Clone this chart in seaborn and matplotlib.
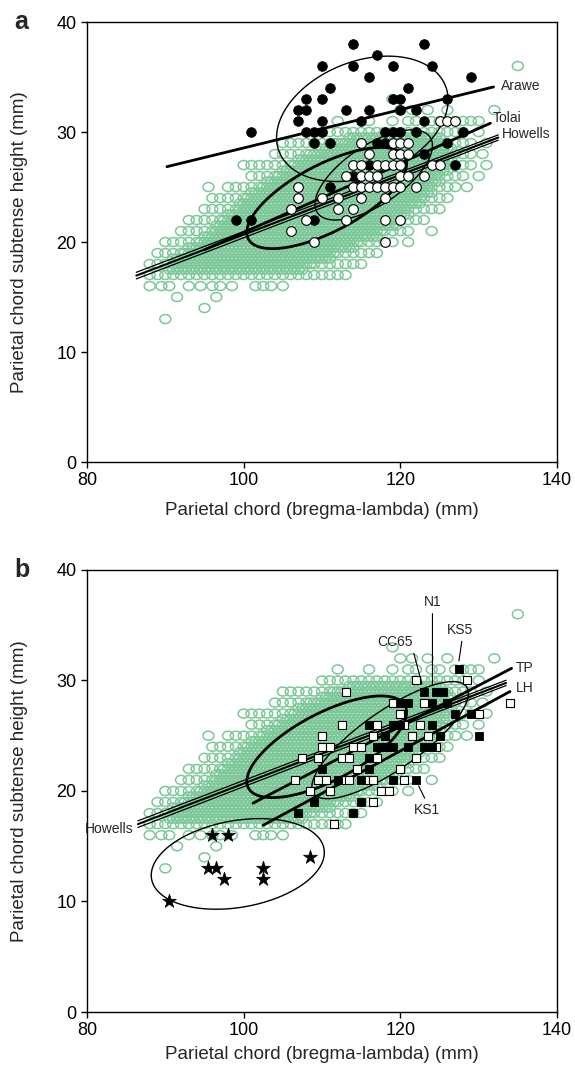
import numpy as np
import pandas as pd
import matplotlib
matplotlib.use('Agg')
import matplotlib.pyplot as plt
from matplotlib.path import Path
from matplotlib.transforms import Affine2D
import seaborn as sns

# ---------------- data (mm) ----------------
# Howells cloud: integer rows, span of occupied x values
howells_row_y = [17, 18, 19, 20, 21, 22, 23, 24, 25, 26, 27, 28, 29, 30]
howells_row_lo = [88, 88, 89, 90, 92, 93, 95, 96, 98, 101, 100, 104, 105, 110]
howells_row_hi = [112, 115, 117, 119, 121, 123, 125, 126, 127, 128, 129, 129, 129, 128]
# dense core of the integer rows (x every half mm)
howells_dense_y = [18, 19, 20, 21, 22, 23, 24, 25, 26, 27, 28, 29]
howells_dense_lo = [91.5, 92.5, 94.5, 96.5, 97.5, 99.5, 100.5, 102.5, 104.5, 106.5, 108.5, 111.5]
howells_dense_hi = [108.5, 111.5, 114.5, 117.5, 119.5, 120.5, 122.5, 123.5, 124.5, 125.5, 125.5, 125.5]
# dense core, half rows (x every half mm)
howells_core_y = [17.5, 18.5, 19.5, 20.5, 21.5, 22.5, 23.5, 24.5, 25.5, 26.5, 27.5, 28.5, 29.5]
howells_core_lo = [90.5, 91.0, 93.0, 95.0, 96.5, 98.0, 99.5, 101.0, 103.0, 105.0, 107.0, 110.0, 113.5]
howells_core_hi = [107.5, 111.0, 114.0, 117.0, 119.5, 121.0, 122.5, 124.0, 125.0, 126.0, 126.5, 126.5, 125.0]
# scattered individuals outside the spans
howells_extra_x = [135, 119, 120, 121.5, 123.5, 126, 132,
                   112, 116, 119, 121, 122, 124, 125, 127, 128, 129, 130,
                   130, 131, 130.5, 131, 130, 128.5, 95.5, 121, 124, 113,
                   88, 89.5, 90.5, 93, 94.5, 96, 97, 98.5, 101.5, 102.5, 103.5, 105,
                   91.5, 96.5, 95, 90]
howells_extra_y = [36, 33, 32, 32, 32, 32, 32,
                   31, 31, 31, 31, 31, 31, 31, 31, 31, 31, 31,
                   30, 29, 28, 27, 26, 25, 25, 20, 21, 17,
                   16, 16, 16, 16, 16, 16, 16, 16, 16, 16, 16, 16,
                   15, 15, 14, 13]

# panel a: Arawe (filled) and Tolai (open) circles
arawe_x = [114, 123, 117, 110, 114, 119, 124, 116, 129, 111, 121, 108, 110, 119, 120, 126,
           107, 108, 113, 116, 120, 122, 107, 110, 115, 123, 101, 108, 109, 110, 118, 119,
           120, 122, 128, 109, 111, 117, 118, 126, 123, 116, 127, 114, 111, 99, 101, 109]
arawe_y = [38, 38, 37, 36, 36, 36, 36, 35, 35, 34, 34, 33, 33, 33, 33, 33,
           32, 32, 32, 32, 32, 32, 31, 31, 31, 31, 30, 30, 30, 30, 30, 30,
           30, 30, 30, 29, 29, 29, 29, 29, 28, 27, 27, 26, 25, 22, 22, 22]
tolai_x = [125, 126, 127, 115, 119, 120, 121, 116, 119, 120, 121,
           114, 115, 117, 118, 119, 120, 124, 125, 113, 115, 116, 117, 120, 121, 123,
           107, 114, 115, 116, 117, 118, 119, 120, 122, 107, 110, 112, 115, 118,
           106, 112, 114, 108, 113, 118, 120, 106, 109, 118]
tolai_y = [31, 31, 31, 29, 29, 29, 29, 28, 28, 28, 28,
           27, 27, 27, 27, 27, 27, 27, 27, 26, 26, 26, 26, 26, 26, 26,
           25, 25, 25, 25, 25, 25, 25, 25, 25, 24, 24, 24, 24, 24,
           23, 23, 23, 22, 22, 22, 22, 21, 20, 20]

# panel b: filled squares, open squares, stars
fsq_x = [127.5, 123, 124.5, 125.5, 120, 121, 124, 126, 127, 129, 116, 119, 120, 124,
         118, 125, 130, 117, 118, 119, 121, 123, 124, 116, 110, 116, 112, 115, 119, 122,
         109, 115, 107, 114]
fsq_y = [31, 29, 29, 29, 28, 28, 28, 28, 27, 27, 26, 26, 26, 26,
         25, 25, 25, 24, 24, 24, 24, 24, 24, 23, 22, 22, 21, 21, 21, 21,
         19, 19, 18, 18]
osq_x = [113, 122, 128.5, 119, 123, 120, 130, 134, 112.5, 117, 120.5, 122.5,
         110, 116.5, 121.5, 123.5, 110, 111, 114, 115, 118, 124.5,
         107.5, 109.5, 112.5, 113.5, 117, 122, 114.5, 120,
         106.5, 109.5, 110.5, 112.5, 113.5, 115.5, 116.5, 120.5,
         108.5, 111, 117.5, 118.5, 116.5, 111.5]
osq_y = [29, 30, 30, 28, 28, 27, 27, 28, 26, 26, 26, 26,
         25, 25, 25, 25, 24, 24, 24, 24, 24, 24,
         23, 23, 23, 23, 23, 23, 22, 22,
         21, 21, 21, 21, 21, 21, 21, 21,
         20, 20, 20, 20, 19, 17]
star_x = [96, 98, 95.5, 96.5, 97.5, 102.5, 102.5, 108.5, 90.5]
star_y = [16, 16, 13, 13, 12, 13, 12, 14, 10]

# regression lines (end points)
howells_a_x = [86.3, 132.5]
howells_a_mid = [16.95, 29.5]
howells_a_up = [17.25, 29.74]
howells_a_lo = [16.65, 29.26]
howells_b_x = [86.5, 133.5]
howells_b_mid = [17.0, 29.78]
howells_b_up = [17.3, 30.02]
howells_b_lo = [16.7, 29.54]
arawe_line_x = [90.2, 131.9]
arawe_line_y = [26.85, 34.1]
tolai_line_x = [95.0, 131.5]
tolai_line_y = [19.3, 30.8]
tp_line_x = [101.2, 134.2]
tp_line_y = [18.9, 31.1]
lh_line_x = [102.5, 134.0]
lh_line_y = [16.9, 29.0]

# ellipses: centre x, centre y, half range x, half range y, correlation
ell_howells = [110.6, 24.0, 10.2, 4.6, 0.68]
ell_arawe = [115.15, 31.2, 10.95, 5.7, 0.3]
ell_tolai = [116.6, 26.1, 7.5, 4.1, 0.65]
ell_squares = [118.7, 24.6, 10.0, 5.3, 0.8]
ell_stars = [99.25, 13.4, 11.05, 4.1, 0.25]

GREEN = '#7cc898'

# ---------------- build cloud table ----------------
hx, hy = [], []
for y, lo, hi in zip(howells_row_y, howells_row_lo, howells_row_hi):
    xs = np.arange(lo, hi + 0.01, 1.0)
    hx += list(xs); hy += [y] * len(xs)
for y, lo, hi in zip(howells_dense_y, howells_dense_lo, howells_dense_hi):
    xs = np.arange(lo, hi + 0.01, 1.0)
    hx += list(xs); hy += [y] * len(xs)
for y, lo, hi in zip(howells_core_y, howells_core_lo, howells_core_hi):
    xs = np.arange(lo, hi + 0.01, 0.5)
    hx += list(xs); hy += [y] * len(xs)
hx += howells_extra_x; hy += howells_extra_y
howells = pd.DataFrame({'x': hx, 'y': hy})

oval = Path.unit_circle().transformed(Affine2D().scale(1.22, 1.0))


def ellipse_xy(p, n=300):
    cx, cy, a, b, r = p
    t = np.linspace(0, 2 * np.pi, n)
    return cx + a * np.cos(t), cy + b * (r * np.cos(t) + np.sqrt(1 - r * r) * np.sin(t))


sns.set_style('ticks')
plt.rcParams['font.family'] = ['Liberation Sans', 'DejaVu Sans']

fig = plt.figure(figsize=(5.75, 10.75), dpi=100)
ax_a = fig.add_axes([0.1513, 0.5702, 0.8174, 0.4093])
ax_b = fig.add_axes([0.1513, 0.0586, 0.8174, 0.4112])

for ax in (ax_a, ax_b):
    sns.scatterplot(data=howells, x='x', y='y', ax=ax, marker=oval, s=62,
                    color=GREEN, facecolor='none', edgecolor=GREEN, linewidth=1.1,
                    zorder=1, legend=False)

# ---- panel a ----
ax = ax_a
ax.plot(howells_a_x, howells_a_up, color='black', lw=0.9, zorder=3)
ax.plot(howells_a_x, howells_a_lo, color='black', lw=0.9, zorder=3)
ax.plot(howells_a_x, howells_a_mid, color='black', lw=1.5, zorder=3)
ax.plot(tolai_line_x, tolai_line_y, color='black', lw=2, zorder=3)
ax.plot(arawe_line_x, arawe_line_y, color='black', lw=2, zorder=3)
ex, ey = ellipse_xy(ell_howells)
ax.plot(ex, ey, color='black', lw=2, zorder=3)
ex, ey = ellipse_xy(ell_arawe)
ax.plot(ex, ey, color='black', lw=1, zorder=3)
ex, ey = ellipse_xy(ell_tolai)
ax.plot(ex, ey, color='black', lw=1, zorder=3)
sns.scatterplot(x=arawe_x, y=arawe_y, ax=ax, marker='o', s=48, color='black',
                edgecolor='black', linewidth=0.6, zorder=4)
sns.scatterplot(x=tolai_x, y=tolai_y, ax=ax, marker='o', s=48, color='white',
                edgecolor='black', linewidth=0.8, zorder=4)
ax.text(132.8, 34.2, 'Arawe', fontsize=10, va='center', ha='left')
ax.text(131.8, 31.3, 'Tolai', fontsize=10, va='center', ha='left')
ax.text(133.0, 29.8, 'Howells', fontsize=10, va='center', ha='left')

# ---- panel b ----
ax = ax_b
ax.plot(howells_b_x, howells_b_up, color='black', lw=0.9, zorder=3)
ax.plot(howells_b_x, howells_b_lo, color='black', lw=0.9, zorder=3)
ax.plot(howells_b_x, howells_b_mid, color='black', lw=1.5, zorder=3)
ax.plot(tp_line_x, tp_line_y, color='black', lw=2, zorder=3)
ax.plot(lh_line_x, lh_line_y, color='black', lw=2, zorder=3)
ex, ey = ellipse_xy(ell_howells)
ax.plot(ex, ey, color='black', lw=2, zorder=3)
ex, ey = ellipse_xy(ell_squares)
ax.plot(ex, ey, color='black', lw=1, zorder=3)
ex, ey = ellipse_xy(ell_stars)
ax.plot(ex, ey, color='black', lw=1, zorder=3)
sns.scatterplot(x=osq_x, y=osq_y, ax=ax, marker='s', s=40, color='white',
                edgecolor='black', linewidth=0.8, zorder=4)
sns.scatterplot(x=fsq_x, y=fsq_y, ax=ax, marker='s', s=40, color='black',
                edgecolor='black', linewidth=0.6, zorder=4)
sns.scatterplot(x=star_x, y=star_y, ax=ax, marker='*', s=110, color='black',
                edgecolor='black', linewidth=0.5, zorder=4)
ax.text(134.7, 31.1, 'TP', fontsize=10, va='center', ha='left')
ax.text(134.8, 29.3, 'LH', fontsize=10, va='center', ha='left')
ax.text(86.0, 16.6, 'Howells', fontsize=10, va='center', ha='right')
leader = dict(arrowstyle='-', color='black', lw=0.8, shrinkA=1, shrinkB=3)
ax.annotate('N1', xy=(124.1, 29.2), xytext=(124.1, 37.1), fontsize=10,
            ha='center', va='center', arrowprops=dict(leader, relpos=(0.5, 0)), zorder=5)
ax.annotate('CC65', xy=(122.9, 29.3), xytext=(119.3, 33.5), fontsize=10,
            ha='center', va='center', arrowprops=dict(leader, relpos=(1.0, 0)), zorder=5)
ax.annotate('KS5', xy=(127.4, 31.4), xytext=(127.6, 34.6), fontsize=10,
            ha='center', va='center', arrowprops=dict(leader, relpos=(0.6, 0)), zorder=5)
ax.annotate('KS1', xy=(122.1, 20.8), xytext=(123.4, 18.3), fontsize=10,
            ha='center', va='center', arrowprops=dict(leader, relpos=(0.5, 1)), zorder=5)

for ax, letter, pad in ((ax_a, 'a', 9), (ax_b, 'b', 5)):
    ax.set_xlim(80, 140)
    ax.set_ylim(0, 40)
    ax.set_xticks([80, 100, 120, 140])
    ax.set_yticks([0, 10, 20, 30, 40])
    ax.tick_params(direction='out', length=4, width=1, labelsize=13, colors='black')
    for sp in ax.spines.values():
        sp.set_visible(True)
        sp.set_linewidth(1)
        sp.set_color('black')
    ax.set_xlabel('Parietal chord (bregma-lambda) (mm)', fontsize=13.5, labelpad=pad)
    ax.set_ylabel('Parietal chord subtense height (mm)', fontsize=13.5)
    ax.yaxis.set_label_coords(-0.125, 0.5)
    ax.text(-0.155, 1.0, letter, transform=ax.transAxes, fontsize=18,
            fontweight='bold', ha='left', va='center')

fig.savefig('out.png', dpi=100)
